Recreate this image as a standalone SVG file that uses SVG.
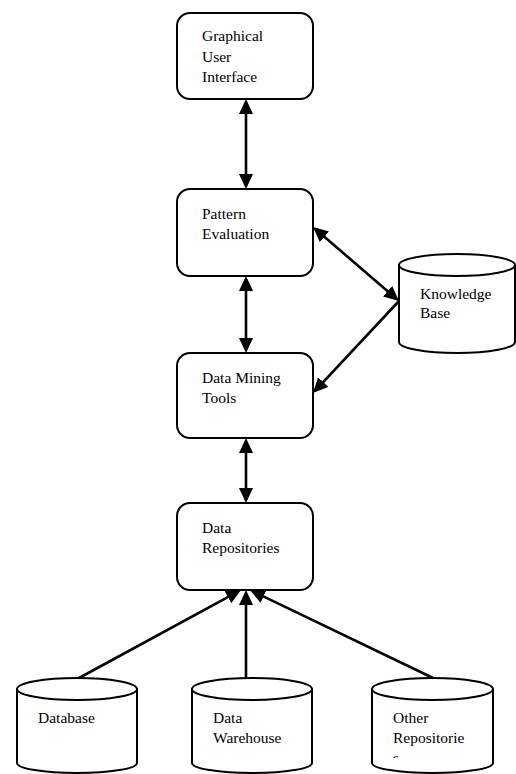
<svg xmlns="http://www.w3.org/2000/svg" width="516" height="774" viewBox="0 0 516 774">
<style>
.box{fill:#fff;stroke:#000;stroke-width:2}
.cyl{fill:#fff;stroke:#000;stroke-width:2}
.lbl{font-family:"Liberation Serif","Times New Roman",serif;font-size:15.5px;fill:#000}
.con{stroke:#000;stroke-width:2.6;fill:none}
</style>
<defs>
<marker id="ah" markerUnits="userSpaceOnUse" markerWidth="16" markerHeight="15" refX="12" refY="7" orient="auto-start-reverse">
<path d="M0,0 L15,7 L0,14 z" fill="#000"/>
</marker>
<clipPath id="clipOther"><rect x="372" y="700" width="122" height="58"/></clipPath>
</defs>
<rect width="516" height="774" fill="#fff"/>
<g id="gui">
<rect class="box" x="177" y="13" width="136" height="86" rx="13"/>
<text class="lbl" x="202" y="41">Graphical</text>
<text class="lbl" x="202" y="62">User</text>
<text class="lbl" x="202" y="82">Interface</text>
</g>
<g id="pattern">
<rect class="box" x="177" y="189" width="136" height="87" rx="13"/>
<text class="lbl" x="202" y="219">Pattern</text>
<text class="lbl" x="202" y="239">Evaluation</text>
</g>
<g id="mining">
<rect class="box" x="177" y="353" width="136" height="85" rx="13"/>
<text class="lbl" x="202" y="383">Data Mining</text>
<text class="lbl" x="202" y="403">Tools</text>
</g>
<g id="repos">
<rect class="box" x="177" y="503" width="136" height="87" rx="13"/>
<text class="lbl" x="202" y="533">Data</text>
<text class="lbl" x="202" y="553">Repositories</text>
</g>
<g id="knowledge">
<path class="cyl" d="M399,265 L399,342 A58,11 0 0 0 515,342 L515,265"/>
<ellipse class="cyl" cx="457" cy="265" rx="58" ry="11"/>
<text class="lbl" x="420" y="299">Knowledge</text>
<text class="lbl" x="420" y="318">Base</text>
</g>
<g id="database">
<path class="cyl" d="M17,689 L17,763 A60,10 0 0 0 137,763 L137,689"/>
<ellipse class="cyl" cx="77" cy="689" rx="60" ry="11"/>
<text class="lbl" x="38" y="723">Database</text>
</g>
<g id="warehouse">
<path class="cyl" d="M192,689 L192,763 A60,10 0 0 0 312,763 L312,689"/>
<ellipse class="cyl" cx="252" cy="689" rx="60" ry="11"/>
<text class="lbl" x="213" y="723">Data</text>
<text class="lbl" x="213" y="743">Warehouse</text>
</g>
<g id="other">
<path class="cyl" d="M372,689 L372,763 A60.5,10 0 0 0 493,763 L493,689"/>
<ellipse class="cyl" cx="432.5" cy="689" rx="60.5" ry="11"/>
<text class="lbl" x="393" y="723">Other</text>
<text class="lbl" x="393" y="743">Repositorie</text>
<text class="lbl" x="393" y="763" clip-path="url(#clipOther)">s</text>
</g>
<g id="connectors">
<line class="con" x1="246" y1="102" x2="246" y2="186" marker-start="url(#ah)" marker-end="url(#ah)"/>
<line class="con" x1="246" y1="279" x2="246" y2="350" marker-start="url(#ah)" marker-end="url(#ah)"/>
<line class="con" x1="246" y1="441" x2="246" y2="500" marker-start="url(#ah)" marker-end="url(#ah)"/>
<line class="con" x1="315.3" y1="229" x2="396.7" y2="299" marker-start="url(#ah)" marker-end="url(#ah)"/>
<line class="con" x1="399" y1="301" x2="315" y2="390.8" marker-end="url(#ah)"/>
<line class="con" x1="79" y1="678" x2="238.4" y2="591.4" marker-end="url(#ah)"/>
<line class="con" x1="246" y1="678" x2="246" y2="593" marker-end="url(#ah)"/>
<line class="con" x1="433" y1="678" x2="252.7" y2="591.3" marker-end="url(#ah)"/>
</g>
</svg>
